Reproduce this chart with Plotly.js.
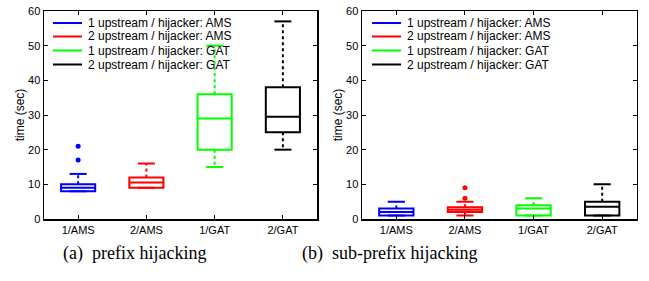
<!DOCTYPE html>
<html>
<head>
<meta charset="utf-8">
<script src="https://cdn.plot.ly/plotly-3.0.1.min.js"></script>
<style>html,body{margin:0;padding:0;background:#fff}#chart{width:649px;height:281px}</style>
</head>
<body>
<div id="chart"></div>
<script>
// ---- data ----
const categories = ["1/AMS", "2/AMS", "1/GAT", "2/GAT"];
const seriesNames = ["1 upstream / hijacker: AMS", "2 upstream / hijacker: AMS",
                     "1 upstream / hijacker: GAT", "2 upstream / hijacker: GAT"];
const colors = ["#0000ff", "#ff0000", "#00ff00", "#000000"];
const yTicks = [0, 10, 20, 30, 40, 50, 60];

// (a) prefix hijacking
const prefixLower  = [8, 9, 15, 20];
const prefixQ1     = [8, 9, 20, 25];
const prefixMedian = [9, 10.5, 29, 29.5];
const prefixQ3     = [10, 12, 36, 38];
const prefixUpper  = [13, 16, 50, 57];
const prefixOutliers = [[17, 21], [], [], []];

// (b) sub-prefix hijacking
const subLower  = [1, 1, 1, 1];
const subQ1     = [1, 2, 1, 1];
const subMedian = [2, 2.7, 3, 3.5];
const subQ3     = [3, 3.4, 4, 5];
const subUpper  = [5, 5, 6, 10];
const subOutliers = [[], [6, 9], [], []];

const captions = ["(a)  prefix hijacking", "(b)  sub-prefix hijacking"];

// ---- build ----
const W = 649, H = 281;
const traces = [];
function addPanel(xa, ya, lower, q1, med, q3, upper, outl) {
  categories.forEach((c, i) => {
    const x = i + 1;
    traces.push({type: 'box', xaxis: xa, yaxis: ya, x: [x], q1: [q1[i]], median: [med[i]], q3: [q3[i]],
      lowerfence: [q1[i]], upperfence: [q3[i]], width: 0.5, whiskerwidth: 0,
      line: {color: colors[i], width: 2}, fillcolor: 'rgba(255,255,255,0)', showlegend: false, hoverinfo: 'skip'});
    traces.push({type: 'scatter', mode: 'lines', xaxis: xa, yaxis: ya,
      x: [x, x, null, x, x], y: [q3[i], upper[i], null, q1[i], lower[i]],
      line: {color: colors[i], width: 2, dash: '3px,3px'}, showlegend: false, hoverinfo: 'skip'});
    traces.push({type: 'scatter', mode: 'lines', xaxis: xa, yaxis: ya,
      x: [x - 0.125, x + 0.125, null, x - 0.125, x + 0.125], y: [upper[i], upper[i], null, lower[i], lower[i]],
      line: {color: colors[i], width: 2}, showlegend: false, hoverinfo: 'skip'});
    if (outl[i].length) {
      traces.push({type: 'scatter', mode: 'markers', xaxis: xa, yaxis: ya,
        x: outl[i].map(() => x), y: outl[i],
        marker: {color: colors[i], size: 5, symbol: 'circle'}, showlegend: false, hoverinfo: 'skip'});
    }
  });
}
addPanel('x', 'y', prefixLower, prefixQ1, prefixMedian, prefixQ3, prefixUpper, prefixOutliers);
addPanel('x2', 'y2', subLower, subQ1, subMedian, subQ3, subUpper, subOutliers);

const tickFont = {family: 'Liberation Sans, Arial, sans-serif', size: 11, color: '#000'};
function xAxis(dom, anchor) {
  return {domain: dom, anchor: anchor, range: [0.5, 4.5], tickmode: 'array', tickvals: [1, 2, 3, 4],
    ticktext: categories, ticks: 'inside', ticklen: 4, tickcolor: '#000', showline: true, linecolor: '#000',
    linewidth: 1.5, mirror: 'ticks', showgrid: false, zeroline: false, tickfont: tickFont, fixedrange: true};
}
function yAxis(dom, anchor) {
  return {domain: dom, anchor: anchor, range: [0, 60], tickmode: 'array', tickvals: yTicks,
    ticks: 'inside', ticklen: 4, tickcolor: '#000', showline: true, linecolor: '#000', linewidth: 1.5,
    mirror: 'ticks', showgrid: false, zeroline: false, tickfont: tickFont, fixedrange: true,
    title: {text: 'time (sec)', font: {family: 'Liberation Sans, Arial, sans-serif', size: 12, color: '#000'}, standoff: 1}};
}
const px = v => v / W, py = v => 1 - v / H;
const yDom = [py(219), py(11)];

const shapes = [], annotations = [];
const legendLeft = [53, 372];
const rowY = [23, 36.5, 50.5, 64.5];
legendLeft.forEach(L => {
  seriesNames.forEach((n, i) => {
    shapes.push({type: 'line', xref: 'paper', yref: 'paper', x0: px(L), x1: px(L + 29), y0: py(rowY[i]), y1: py(rowY[i]),
      line: {color: colors[i], width: 2}});
    annotations.push({xref: 'paper', yref: 'paper', x: px(L + 33), y: py(rowY[i]), xanchor: 'left', yanchor: 'middle',
      text: n, showarrow: false, font: {family: 'Liberation Sans, Arial, sans-serif', size: 12, color: '#000'}});
  });
});
[134, 389].forEach((cx, k) => {
  annotations.push({xref: 'paper', yref: 'paper', x: px(cx), y: py(253), xanchor: 'center', yanchor: 'middle',
    text: captions[k], showarrow: false, font: {family: 'Liberation Serif, Times New Roman, serif', size: 18, color: '#000'}});
});

const layout = {
  width: W, height: H, margin: {l: 0, r: 0, t: 0, b: 0},
  paper_bgcolor: '#fff', plot_bgcolor: '#fff', showlegend: false,
  xaxis: xAxis([px(44), px(317)], 'y'), yaxis: yAxis(yDom, 'x'),
  xaxis2: xAxis([px(362), px(636.5)], 'y2'), yaxis2: yAxis(yDom, 'x2'),
  shapes: shapes, annotations: annotations
};
Plotly.newPlot('chart', traces, layout, {staticPlot: true, displayModeBar: false});
</script>
</body>
</html>
